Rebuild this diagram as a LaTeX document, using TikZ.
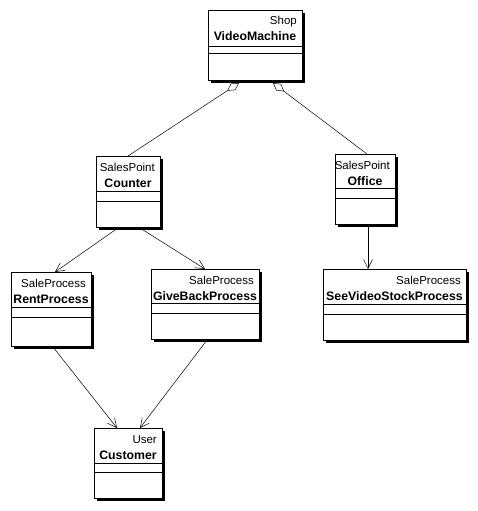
\documentclass[tikz,border=0pt]{standalone}
\usepackage{fontspec}
\setmainfont{Liberation Sans}
\usetikzlibrary{arrows.meta}
\tikzset{
  boxline/.style={line width=0.8pt},
  stereo/.style={inner sep=0pt, font=\fontsize{11.5}{13}\selectfont},
  cname/.style={inner sep=0pt, font=\fontsize{12.3}{14}\selectfont\bfseries},
  assoc/.style={line width=0.5pt, -{Straight Barb[length=9pt,width=9pt,line width=0.5pt]}},
  aggr/.style={line width=0.5pt, {Diamond[open,length=14pt,width=8pt,line width=0.5pt]}-},
}
\newcommand\umlclass[9]{%
  \fill[black] (#2+3,#3+3) rectangle (#4+3,#5+3);
  \draw[boxline, fill=white] (#2,#3) rectangle (#4,#5);
  \draw[boxline] (#2,#6) -- (#4,#6);
  \draw[boxline] (#2,#7) -- (#4,#7);
  \node[stereo, anchor=base east] (#1-st) at (#4-5,#3+15) {#8};
  \node[cname, anchor=base] (#1-nm) at ({(#2+#4)/2},#3+31) {#9};
  \node[inner sep=0pt, outer sep=0pt, minimum width={(#4-#2)*1pt}, minimum height={(#5-#3)*1pt}] (#1) at ({(#2+#4)/2},{(#3+#5)/2}) {};
}
\begin{document}
\begin{tikzpicture}[x=1pt,y=-1pt]
\useasboundingbox[fill=white] (0,0) rectangle (478,511);
\umlclass{vm}{208}{10}{302}{80}{46}{53}{Shop}{VideoMachine}
\umlclass{counter}{96}{156}{160}{227}{191}{201}{SalesPoint}{Counter}
\umlclass{office}{335}{154}{395}{224}{188}{198}{SalesPoint}{Office}
\umlclass{rent}{11}{272}{91}{346}{307}{317}{SaleProcess}{RentProcess}
\umlclass{giveback}{151}{269}{259}{339}{303}{313}{SaleProcess}{GiveBackProcess}
\umlclass{svsp}{323}{269}{466}{340}{304}{314}{SaleProcess}{SeeVideoStockProcess}
\umlclass{customer}{94}{428}{162}{498}{463}{472}{User}{Customer}
% aggregations
\draw[aggr] ([xshift=-16pt,yshift=-3pt]vm.south) -- (counter.north);
\draw[aggr] ([xshift=18pt,yshift=-3pt]vm.south) -- ([xshift=2pt]office.north);
% associations
\draw[assoc] ([xshift=-10pt,yshift=-1pt]counter.south) -- ([xshift=4pt]rent.north);
\draw[assoc] ([xshift=12pt,yshift=-1pt]counter.south) -- (giveback.north);
\draw[assoc] ([xshift=3pt,yshift=-3pt]office.south) -- ([xshift=-26.5pt]svsp.north);
\draw[assoc] ([xshift=2pt,yshift=-1pt]rent.south) -- ([xshift=-11pt]customer.north);
\draw[assoc] ([xshift=2pt,yshift=-1pt]giveback.south) -- ([xshift=12pt]customer.north);
\end{tikzpicture}
\end{document}
